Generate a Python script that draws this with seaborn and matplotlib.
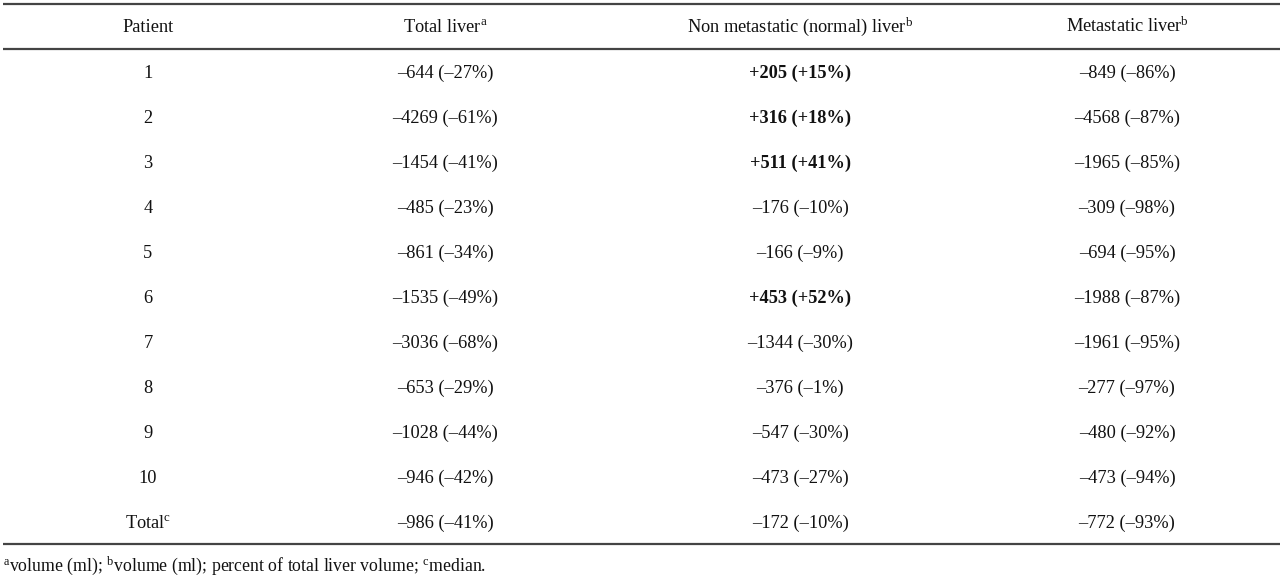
import matplotlib
matplotlib.use("Agg")
import matplotlib.pyplot as plt
import seaborn as sns

patients = ["1", "2", "3", "4", "5", "6", "7", "8", "9", "10", "Total$^{\\mathrm{c}}$"]
total_liver = ["–644 (–27%)", "–4269 (–61%)", "–1454 (–41%)", "–485 (–23%)", "–861 (–34%)",
               "–1535 (–49%)", "–3036 (–68%)", "–653 (–29%)", "–1028 (–44%)", "–946 (–42%)",
               "–986 (–41%)"]
normal_liver = ["+205 (+15%)", "+316 (+18%)", "+511 (+41%)", "–176 (–10%)", "–166 (–9%)",
                "+453 (+52%)", "–1344 (–30%)", "–376 (–1%)", "–547 (–30%)", "–473 (–27%)",
                "–172 (–10%)"]
metastatic_liver = ["–849 (–86%)", "–4568 (–87%)", "–1965 (–85%)", "–309 (–98%)", "–694 (–95%)",
                    "–1988 (–87%)", "–1961 (–95%)", "–277 (–97%)", "–480 (–92%)", "–473 (–94%)",
                    "–772 (–93%)"]
headers = ["Patient", "Total liver$^{\\mathrm{a}}$", "Non metastatic (normal) liver$^{\\mathrm{b}}$",
           "Metastatic liver$^{\\mathrm{b}}$"]
footnote = ("$^{\\mathrm{a}}$volume (ml); $^{\\mathrm{b}}$volume (ml); percent of total liver volume; "
            "$^{\\mathrm{c}}$median.")

sns.set_theme(style="white")
plt.rcParams["font.family"] = ["Liberation Serif", "DejaVu Serif"]
plt.rcParams["mathtext.fontset"] = "custom"
plt.rcParams["mathtext.rm"] = "Liberation Serif"
plt.rcParams["mathtext.it"] = "Liberation Serif:italic"
plt.rcParams["mathtext.bf"] = "Liberation Serif:bold"

W, H = 1283, 578
fig = plt.figure(figsize=(W / 100, H / 100), dpi=100)
ax = fig.add_axes([0, 0, 1, 1])
ax.set_xlim(0, W)
ax.set_ylim(H, 0)
ax.axis("off")

col_x = [148, 445, 800, 1127]
header_base = 32
row_base0, row_dy = 78, 45
fs = 13.2

for x, h in zip(col_x, headers):
    ax.text(x, header_base, h, ha="center", va="baseline", fontsize=fs, color="#111111")

columns = [patients, total_liver, normal_liver, metastatic_liver]
for ci, col in enumerate(columns):
    for ri, val in enumerate(col):
        y = row_base0 + ri * row_dy
        bold = val.startswith("+")
        ax.text(col_x[ci], y, val, ha="center", va="baseline", fontsize=fs,
                fontweight="bold" if bold else "normal", color="#111111")

for y in (3.5, 48.5, 544):
    ax.plot([3, 1280], [y, y], color="#444444", lw=1.6, solid_capstyle="butt")

ax.text(3, 571, footnote, ha="left", va="baseline", fontsize=12.8, color="#111111")

fig.savefig("out.png", dpi=100, facecolor="white")
